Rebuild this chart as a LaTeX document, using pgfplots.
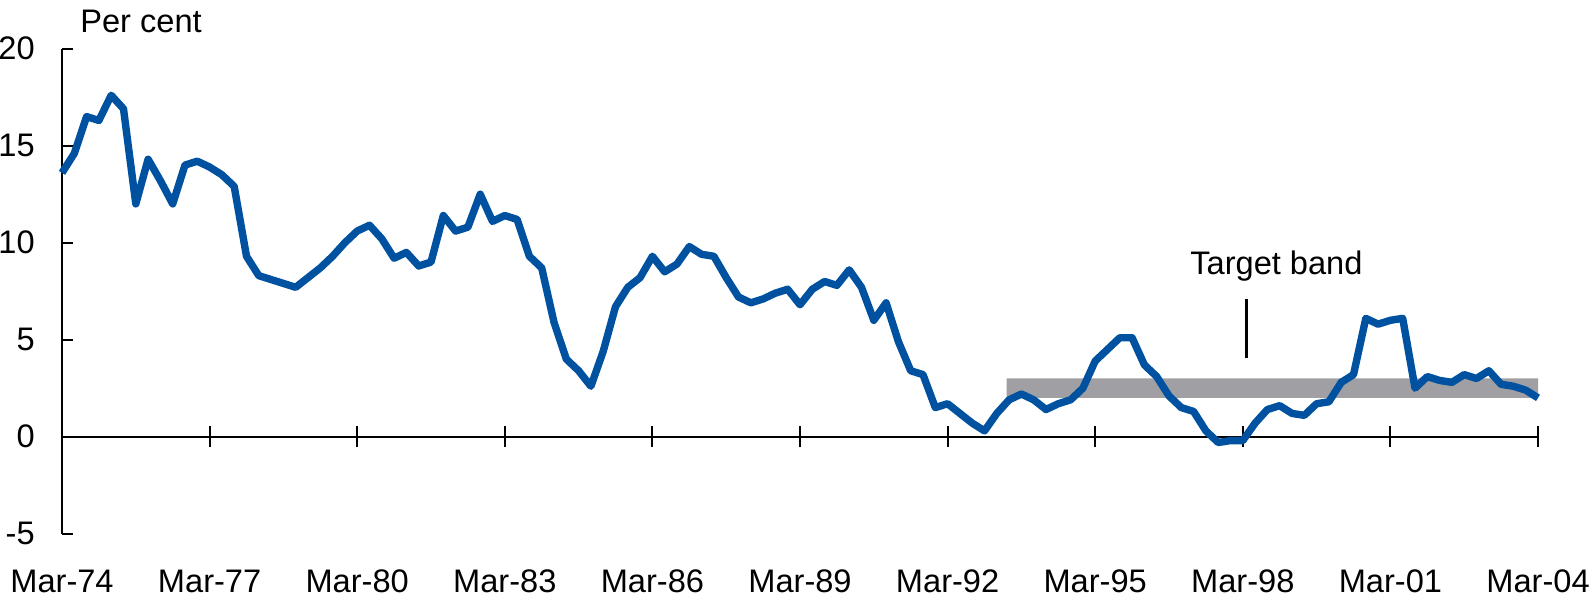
\documentclass[border=0pt]{standalone}
\usepackage{fontspec}
\setmainfont{Liberation Sans}
\usepackage{pgfplots}
\pgfplotsset{compat=1.18}
\definecolor{rbablue}{RGB}{0,82,160}
\definecolor{bandgray}{RGB}{160,160,164}
\begin{document}
\fontsize{16.3pt}{19.5pt}\selectfont
\begin{tikzpicture}[font=\fontsize{16.3pt}{19.5pt}\selectfont]
% y axis
\begin{axis}[at={(0,0)}, anchor=south west, scale only axis,
  width=738pt, height=242.5pt,
  xmin=0, xmax=120, ymin=-5, ymax=20,
  axis x line=none, axis y line=left,
  y axis line style={-, line width=1pt, black},
  ytick={-5,0,5,10,15,20}, yticklabels={-5,0,5,10,15,20},
  ytick align=inside, major tick length=5.3pt,
  tick style={line width=1pt, black},
  yticklabel style={xshift=-8pt, font=\fontsize{16.3pt}{19.5pt}\selectfont},
]
\end{axis}
% main axis
\begin{axis}[at={(0,0)}, anchor=south west, scale only axis,
  width=738pt, height=242.5pt,
  xmin=0, xmax=120, ymin=-5, ymax=20,
  axis y line=none, axis x line=middle,
  x axis line style={-, line width=1pt, black},
  hide obscured x ticks=false,
  xtick={0,12,24,36,48,60,72,84,96,108,120},
  xticklabels={Mar-74,Mar-77,Mar-80,Mar-83,Mar-86,Mar-89,Mar-92,Mar-95,Mar-98,Mar-01,Mar-04},
  xtick align=center, major tick length=10.5pt,
  tick style={line width=1pt, black},
  xticklabel style={anchor=base, yshift=-72.9pt, font=\fontsize{16.3pt}{19.5pt}\selectfont},
  clip=false,
]
\addplot[draw=none, fill=bandgray] coordinates {(76.8,2) (120,2) (120,3) (76.8,3) (76.8,2)};
\addplot[rbablue, line width=3.7pt, line join=round, mark=none] coordinates {
(0,13.6) (1,14.6) (2,16.5) (3,16.3) (4,17.6) (5,16.9) (6,12.0) (7,14.3) (8,13.2) (9,12.0)
(10,14.0) (11,14.2) (12,13.9) (13,13.5) (14,12.9) (15,9.3) (16,8.3) (17,8.1) (18,7.9) (19,7.7)
(20,8.2) (21,8.7) (22,9.3) (23,10.0) (24,10.6) (25,10.9) (26,10.2) (27,9.2) (28,9.5) (29,8.8)
(30,9.0) (31,11.4) (32,10.6) (33,10.8) (34,12.5) (35,11.1) (36,11.4) (37,11.2) (38,9.3) (39,8.7)
(40,5.9) (41,4.0) (42,3.4) (43,2.6) (44,4.4) (45,6.7) (46,7.7) (47,8.2) (48,9.3) (49,8.5)
(50,8.9) (51,9.8) (52,9.4) (53,9.3) (54,8.2) (55,7.2) (56,6.9) (57,7.1) (58,7.4) (59,7.6)
(60,6.8) (61,7.6) (62,8.0) (63,7.8) (64,8.6) (65,7.7) (66,6.0) (67,6.9) (68,4.9) (69,3.4)
(70,3.2) (71,1.5) (72,1.7) (73,1.2) (74,0.7) (75,0.3) (76,1.2) (77,1.9) (78,2.2) (79,1.9)
(80,1.4) (81,1.7) (82,1.9) (83,2.5) (84,3.9) (85,4.5) (86,5.1) (87,5.1) (88,3.7) (89,3.1)
(90,2.1) (91,1.5) (92,1.3) (93,0.3) (94,-0.3) (95,-0.2) (96,-0.2) (97,0.7) (98,1.4) (99,1.6)
(100,1.2) (101,1.1) (102,1.7) (103,1.8) (104,2.8) (105,3.2) (106,6.1) (107,5.8) (108,6.0) (109,6.1)
(110,2.5) (111,3.1) (112,2.9) (113,2.8) (114,3.2) (115,3.0) (116,3.4) (117,2.7) (118,2.6) (119,2.4)
(120,2.0)};
\addplot[black, line width=1.3pt, mark=none] coordinates {(96.3,7.1) (96.3,4.05)};
\node[anchor=base west, inner sep=0pt] at (axis cs:1.46,20.81) {Per cent};
\node[anchor=base west, inner sep=0pt] at (axis cs:91.7,8.34) {Target band};
\coordinate (bbTL) at (axis cs:-5.0407,22.51);
\coordinate (bbBR) at (axis cs:124.31,-8.778);
\end{axis}
\pgfresetboundingbox
\path[use as bounding box] (bbTL) rectangle (bbBR);
\end{tikzpicture}
\end{document}
